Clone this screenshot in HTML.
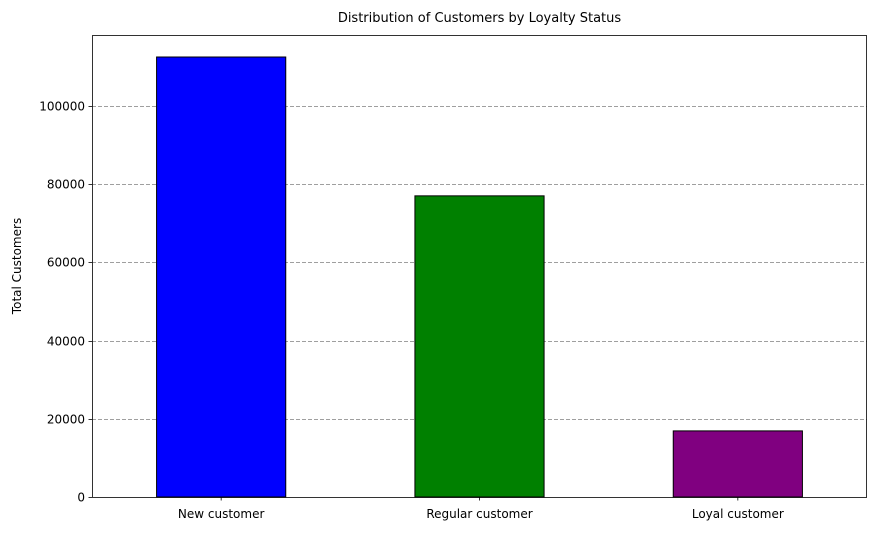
<!DOCTYPE html>
<html><head><meta charset="utf-8"><style>
body{margin:0;background:#fff;font-family:"Liberation Sans","DejaVu Sans",sans-serif;}
svg text{font-family:"DejaVu Sans","Liberation Sans",sans-serif;}
</style></head><body>
<svg id="chart" width="877" height="531" xmlns="http://www.w3.org/2000/svg">
<text x="479.5" y="22" font-size="13" text-anchor="middle" fill="#000">Distribution of Customers by Loyalty Status</text>
<text transform="translate(21,266) rotate(-90)" font-size="12" text-anchor="middle" fill="#000">Total Customers</text>
<g id="grid"></g><g id="bars"></g><g id="axes"></g>
</svg>
<script>
const categories = ["New customer","Regular customer","Loyal customer"];
const values = [112500, 77000, 16900];
const colors = ["#0000ff","#008000","#800080"];
const yTicks = [0,20000,40000,60000,80000,100000];

const L=92,R=867,T=35,B=497;
const ymax=Math.max(...values)*1.05;
const y=v=>B-(v/ymax)*(B-T);
const step=(R-L)/categories.length;
const x=i=>L+step*(i+0.5);
const NS="http://www.w3.org/2000/svg";
function mk(tag,attrs,parent){const e=document.createElementNS(NS,tag);for(const k in attrs)e.setAttribute(k,attrs[k]);parent.appendChild(e);return e;}
const grid=document.getElementById('grid'),bars=document.getElementById('bars'),axes=document.getElementById('axes');
yTicks.forEach(t=>{
  const yy=Math.round(y(t))+0.5;
  if(t>0){const g=mk('line',{x1:L,x2:R,y1:yy,y2:yy,stroke:'#808080','stroke-dasharray':'4,2','stroke-width':0.8},grid);
  
  }
  const tk=mk('line',{x1:L-3.5,x2:L,y1:yy,y2:yy,stroke:'#000','stroke-width':0.8},axes);
  
  
  const lb=mk('text',{x:L-7,y:yy+4,'font-size':12,'text-anchor':'end',fill:'#000'},axes);
  lb.textContent=t;
  
  
});
categories.forEach((c,i)=>{
  const w=step*0.5;
  const r=mk('rect',{x:x(i)-w/2,y:y(values[i]),width:w,height:B-y(values[i]),fill:colors[i],stroke:'#000','stroke-width':1},bars);
  
  
  const tk=mk('line',{x1:x(i),x2:x(i),y1:B,y2:B+3.5,stroke:'#000','stroke-width':0.8},axes);
  
  
  const lb=mk('text',{x:x(i),y:B+21,'font-size':12,'text-anchor':'middle',fill:'#000'},axes);
  lb.textContent=c;
  
  
});
const fr=mk('rect',{x:L+0.5,y:T+0.5,width:R-L-1,height:B-T,fill:'none',stroke:'#000','stroke-width':0.8},axes);


</script>
</body></html>
